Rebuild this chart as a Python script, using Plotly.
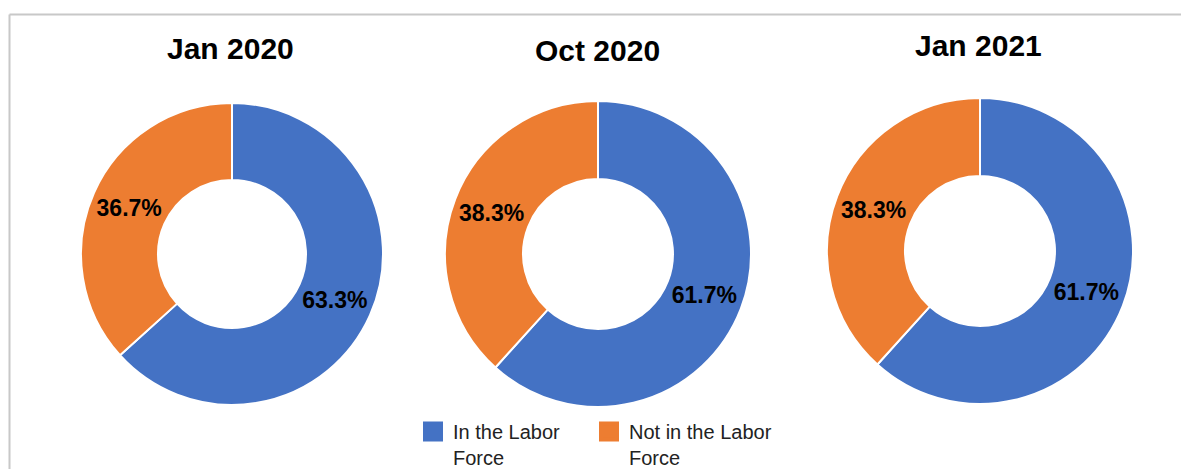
import plotly.graph_objects as go

periods = ["Jan 2020", "Oct 2020", "Jan 2021"]
labels = ["In the Labor Force", "Not in the Labor Force"]
legend_text = ["In the Labor<br>Force", "Not in the Labor<br>Force"]
in_labor = [63.3, 61.7, 61.7]
not_in_labor = [36.7, 38.3, 38.3]
colors = ["#4472C4", "#ED7D31"]

W, H = 1189, 469
OFF = 8  # page body margin
FW, FH = W - OFF, H - OFF


def px(x):
    return (x - OFF) / FW


def py(y):
    return 1 - (y - OFF) / FH


# pie centres / radii in page pixels
centers = [(232, 254), (598, 254), (980, 251)]
radii = [151, 153, 153]
title_pos = [(230, 48), (597, 50), (978, 46)]
legend_x = [413, 589]

font = "Arial, Liberation Sans, sans-serif"

fig = go.Figure()

for i, p in enumerate(periods):
    cx, cy = centers[i]
    r = radii[i]
    fig.add_trace(go.Pie(
        values=[in_labor[i], not_in_labor[i]],
        labels=labels,
        sort=False,
        direction="clockwise",
        rotation=0,
        hole=0.49,
        marker=dict(colors=colors, line=dict(color="white", width=2)),
        texttemplate="%{value:.1f}%",
        textposition="inside",
        insidetextorientation="horizontal",
        textfont=dict(family=font, size=23, color="black", weight="bold"),
        hoverinfo="label+value",
        showlegend=False,
        domain=dict(x=[px(cx - r), px(cx + r)], y=[py(cy + r), py(cy - r)]),
    ))
    tx, ty = title_pos[i]
    fig.add_annotation(text="<b>" + p + "</b>", x=px(tx), y=py(ty),
                       xref="paper", yref="paper", xanchor="center", yanchor="middle",
                       showarrow=False, font=dict(family=font, size=30, color="black"))

# legend entries with larger square swatches, one legend box each
legend_ids = ["legend", "legend2"]
for lab, c, lid in zip(legend_text, colors, legend_ids):
    fig.add_trace(go.Scatter(
        x=[None], y=[None], mode="markers", name=lab, legend=lid,
        marker=dict(symbol="square", size=16, color=c, line=dict(color=c, width=4)),
    ))

# frame lines (top and left)
fig.add_shape(type="line", xref="paper", yref="paper",
              x0=px(9.5), x1=1, y0=py(14.5), y1=py(14.5),
              line=dict(color="#C8C8C8", width=2))
fig.add_shape(type="line", xref="paper", yref="paper",
              x0=px(9.5), x1=px(9.5), y0=py(14.5), y1=0,
              line=dict(color="#C8C8C8", width=2))

leg_style = dict(orientation="h", xanchor="left", y=py(412), yanchor="top",
                 valign="top", font=dict(family=font, size=20, color="#222"),
                 itemwidth=30, bgcolor="rgba(0,0,0,0)")

fig.update_layout(
    width=FW, height=FH,
    margin=dict(l=0, r=0, t=0, b=0, autoexpand=False),
    paper_bgcolor="white", plot_bgcolor="white",
    xaxis=dict(visible=False), yaxis=dict(visible=False),
    legend=dict(x=px(legend_x[0]), **leg_style),
    legend2=dict(x=px(legend_x[1]), **leg_style),
    font=dict(family=font),
)

fig.write_html("out.html")
